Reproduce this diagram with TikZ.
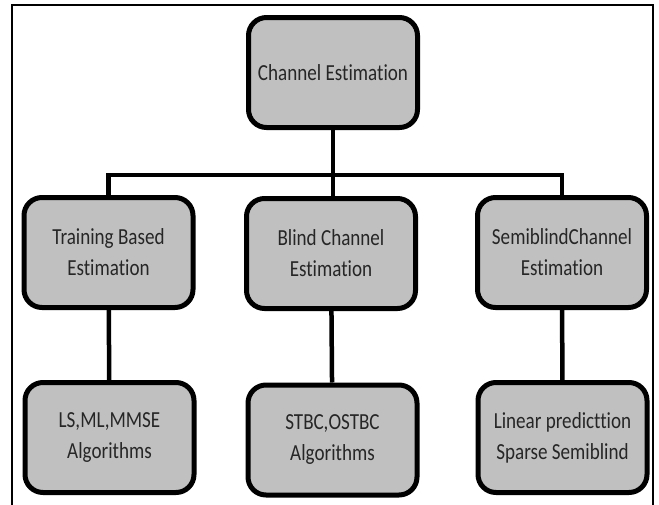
\documentclass[tikz,border=0pt]{standalone}
\usepackage{fontspec}
\newfontfamily\boxfont[FakeStretch=0.83,Ligatures={NoCommon,NoRare}]{Carlito}
\tikzset{
  est/.style={draw=black,line width=5pt,rounded corners=18pt,fill=boxgray,
    minimum width=169pt,minimum height=110pt,align=center,text=black!85,
    font=\boxfont\fontsize{23}{31}\selectfont},
  conn/.style={line width=4.5pt}
}
\definecolor{boxgray}{HTML}{C0C0C0}
\begin{document}
\begin{tikzpicture}[x=1pt,y=-1pt]
\useasboundingbox (0,0) rectangle (659,504);
\draw[line width=2pt] (12,510) -- (12,5) -- (653,5) -- (653,510);

\node[est](0) at (333,72.5) {Channel Estimation};

\node[est](1) at (108.5,252.5) {Training Based\\Estimation};
\node[est](2) at (331,253.5) {Blind Channel\\Estimation};
\node[est](3) at (562,252.5) {SemiblindChannel\\Estimation};

\node[est](1n) at (109.5,437.5) {LS,ML,MMSE\\Algorithms};
\node[est](2n) at (332.5,440) {STBC,OSTBC\\Algorithms};
\node[est](3n) at (562.5,437.5) {Linear predicttion\\Sparse Semiblind};

\coordinate (bar) at (330,175);

\draw[conn] (0) -- (0 |- 2.north);
\draw[conn] (1.north) -- (1.north |- bar) -- (3.north |- bar) -- (3.north);

\draw[conn] (1) -- (1n);
\draw[conn] (2) -- (2n);
\draw[conn] (3) -- (3n);

\end{tikzpicture}
\end{document}
